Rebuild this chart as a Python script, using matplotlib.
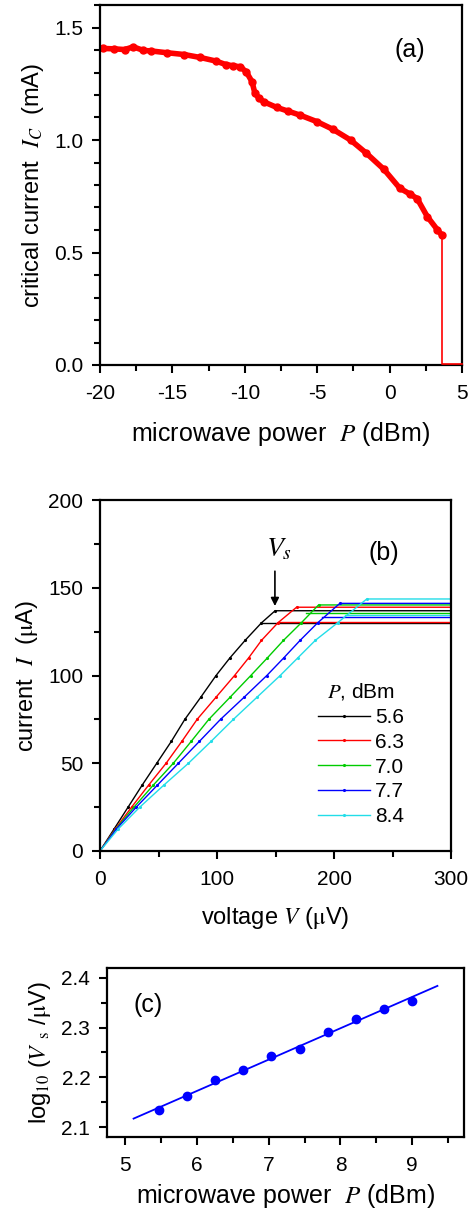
import matplotlib
matplotlib.use('Agg')
import matplotlib.pyplot as plt
from matplotlib.ticker import MultipleLocator

plt.rcParams['font.family'] = ['Liberation Sans', 'DejaVu Sans']
plt.rcParams['mathtext.fontset'] = 'stix'
plt.rcParams['axes.linewidth'] = 1.6
plt.rcParams['axes.unicode_minus'] = False

# (a) critical current vs microwave power
P_a = [-19.8, -19.0, -18.3, -17.7, -17.0, -16.5, -15.4, -14.2, -13.1, -12.0, -11.3,
       -10.8, -10.3, -9.9, -9.5, -9.3, -9.0, -8.7, -7.8, -7.0, -6.2, -5.0, -3.9,
       -2.7, -1.6, -0.4, 0.7, 1.4, 1.9, 2.6, 3.3, 3.6]
Ic_a = [1.407, 1.405, 1.402, 1.414, 1.398, 1.396, 1.388, 1.380, 1.367, 1.351, 1.335,
        1.330, 1.325, 1.303, 1.259, 1.207, 1.185, 1.170, 1.145, 1.128, 1.111, 1.081,
        1.047, 1.000, 0.941, 0.870, 0.786, 0.760, 0.740, 0.660, 0.601, 0.578]
P_drop = [3.6, 3.6, 5.0]
Ic_drop = [0.578, 0.005, 0.005]

# (b) I-V curves
powers = ['5.6', '6.3', '7.0', '7.7', '8.4']
colors = ['black', 'red', '#00cc00', 'blue', '#22dde8']
V_up = [
    [0, 12, 24, 36, 48.5, 61, 72.5, 86, 99.2, 111, 124, 138, 149.7, 300],
    [0, 13, 27, 41.5, 56.5, 70, 83, 99, 115, 127, 138, 152, 168, 300],
    [0, 13.5, 29, 45.5, 62.7, 78, 93, 111, 128.9, 143, 156.8, 172, 186.8, 300],
    [0, 14, 31, 49, 67, 85, 103, 123, 142.6, 157, 171, 186, 205, 300],
    [0, 15.5, 34, 54.5, 75.6, 95, 114, 134, 154, 169, 184, 203, 228, 300],
]
I_up = [
    [0, 12.5, 25, 37.5, 50, 62.5, 75, 87.5, 100, 110, 120, 130, 136.9, 136.9],
    [0, 12.5, 25, 37.5, 50, 62.5, 75, 87.5, 100, 110, 120, 130, 138.9, 138.9],
    [0, 12.5, 25, 37.5, 50, 62.5, 75, 87.5, 100, 110, 120, 130, 140.2, 140.2],
    [0, 12.5, 25, 37.5, 50, 62.5, 75, 87.5, 100, 110, 120, 130, 141.1, 141.1],
    [0, 12.5, 25, 37.5, 50, 62.5, 75, 87.5, 100, 110, 120, 130, 143.6, 143.6],
]
V_ret = [138, 152, 176, 190, 209]
I_ret = [129.9, 130.5, 135.4, 133.2, 134.5]

# (c) switching voltage vs power
P_c = [5.48, 5.87, 6.26, 6.65, 7.04, 7.43, 7.82, 8.22, 8.61, 9.0]
logVs = [2.134, 2.162, 2.194, 2.215, 2.243, 2.258, 2.291, 2.318, 2.338, 2.354]
fit_P = [5.12, 9.35]
fit_logVs = [2.117, 2.384]

fig = plt.figure(figsize=(4.73, 12.11), dpi=100)
W, H = 473.0, 1211.0

def box(l, t, r, b):
    return [l / W, 1 - b / H, (r - l) / W, (b - t) / H]

def style(ax):
    ax.tick_params(which='major', direction='out', length=6, width=1.5, labelsize=15)
    ax.tick_params(which='minor', direction='out', length=4, width=1.5)
    ax.tick_params(axis='x', pad=8)
    ax.tick_params(axis='y', pad=6)
    ax.tick_params(top=False, right=False)

mu = r'$\mathrm{\mu}$'

# panel (a)
ax1 = fig.add_axes(box(100, 5, 462, 365))
ax1.plot(P_a, Ic_a, '-o', color='red', lw=4, ms=5)
ax1.plot(P_drop, Ic_drop, '-', color='red', lw=1.2, clip_on=False, zorder=5)
ax1.set_xlim(-20, 5)
ax1.set_ylim(0, 1.6)
ax1.xaxis.set_major_locator(MultipleLocator(5))
ax1.xaxis.set_minor_locator(MultipleLocator(2.5))
ax1.yaxis.set_minor_locator(MultipleLocator(0.1))
ax1.set_yticks([0.0, 0.5, 1.0, 1.5])
ax1.set_yticklabels(['0.0', '0.5', '1.0', '1.5'])
style(ax1)
ax1.set_xlabel(r'microwave power  $P$ (dBm)', fontsize=18, labelpad=12)
ax1.set_ylabel(r'critical current  $I_C$  (mA)', fontsize=17, labelpad=6)
ax1.text(1.4, 1.40, '(a)', fontsize=18, ha='center', va='center')

# panel (b)
ax2 = fig.add_axes(box(100, 500, 451, 851))
for k in range(len(powers)):
    ax2.plot(V_up[k], I_up[k], '-', marker='.', ms=2.5, color=colors[k], lw=1.0,
             label=powers[k])
    ax2.plot([V_ret[k], 300], [I_ret[k], I_ret[k]], '-', color=colors[k], lw=1.0)
ax2.set_xlim(0, 300)
ax2.set_ylim(0, 200)
ax2.xaxis.set_major_locator(MultipleLocator(100))
ax2.xaxis.set_minor_locator(MultipleLocator(50))
ax2.yaxis.set_major_locator(MultipleLocator(50))
ax2.yaxis.set_minor_locator(MultipleLocator(25))
style(ax2)
ax2.set_xlabel(r'voltage $V$ (' + mu + 'V)', fontsize=17, labelpad=11)
ax2.set_ylabel(r'current  $I$  (' + mu + 'A)', fontsize=17, labelpad=6)
ax2.text(243, 170, '(b)', fontsize=18, ha='center', va='center')
ax2.annotate('', xy=(149.5, 138), xytext=(149.5, 161),
             arrowprops=dict(arrowstyle='-|>', color='black', lw=1.2,
                             mutation_scale=12))
ax2.text(153, 172, r'$V_s$', fontsize=20, ha='center', va='center')
leg = ax2.legend(loc='lower left', bbox_to_anchor=(0.585, 0.035), frameon=False,
                 fontsize=15, handlelength=2.5, handletextpad=0.25,
                 labelspacing=0.28, numpoints=1, borderaxespad=0.2,
                 title=r'$P$, dBm')
leg.get_title().set_fontsize(15)

# panel (c)
ax3 = fig.add_axes(box(107, 968, 464, 1137))
ax3.plot(fit_P, fit_logVs, '-', color='blue', lw=1.3)
ax3.plot(P_c, logVs, 'o', color='blue', ms=6)
ax3.set_xlim(4.75, 9.72)
ax3.set_ylim(2.08, 2.42)
ax3.xaxis.set_major_locator(MultipleLocator(1))
ax3.xaxis.set_minor_locator(MultipleLocator(0.5))
ax3.yaxis.set_major_locator(MultipleLocator(0.1))
ax3.yaxis.set_minor_locator(MultipleLocator(0.05))
style(ax3)
ax3.set_xlabel(r'microwave power  $P$ (dBm)', fontsize=18, labelpad=5)
ax3.set_ylabel(r'log$_{10}$ ($V$ $_{\mathrm{s}}$ /' + mu + 'V)', fontsize=17, labelpad=6)
ax3.text(5.32, 2.346, '(c)', fontsize=18, ha='center', va='center')

fig.savefig('out.png', dpi=100)
